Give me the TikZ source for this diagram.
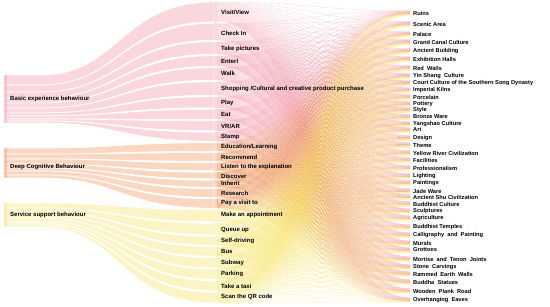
\documentclass[tikz,border=0pt]{standalone}
\usepackage{fontspec}
\setmainfont{Liberation Sans}
\definecolor{pk}{RGB}{240,130,150}
\definecolor{or}{RGB}{235,130,60}
\definecolor{ye}{RGB}{245,222,70}
\begin{document}
% label / centre / top / bottom (middle end) / left start / left width / colour
\def\midlist{{Visit/View}/12/2/21.75/75/10/pk, {Check In}/33/23.25/40.25/85/7/pk, {Take pictures}/49/41.75/54.25/92/6/pk, Enterl/61/55.75/66.25/98/5/pk, Walk/73/67.75/80.25/103/5/pk, {Shopping /Cultural and creative product purchase}/89/81.75/95.25/108/5/pk, Play/103/96.75/107.75/113/3/pk, Eat/114/109.25/119.25/116/3/pk, {VR/AR}/126/120.75/130.75/119/2/pk, Stamp/137/132.25/141.25/121/2/pk, {Education/Learning}/147/142.75/151.25/148/6/or, Recommend/157/152.75/161.25/154/5/or, {Listen to the explanation}/167/162.75/170.75/159/5/or, Discover/176/172.25/178.75/164/4/or, Inherit/183/180.25/187.25/168/3/or, Research/193/188.75/197.25/171/4/or, {Pay a visit to}/203/198.75/208.25/175/3/or, {Make an appointment}/215/209.75/221.75/203/5/ye, {Queue up}/230/223.25/234.75/208/4/ye, {Self-driving}/241/236.25/245.25/212/3/ye, Bus/251/246.75/256.25/215/3/ye, Subway/263/257.75/267.75/218/3/ye, Parking/274/269.25/279.25/221/2/ye, {Take a taxi}/286/280.75/290.75/223/2/ye, {Scan the QR code}/297/292.25/303/225/2/ye}
\def\rightlist{Ruins/13, {Scenic Area}/24, Palace/34, {Grand Canal Culture}/42, {Ancient Building}/51, {Exhibition Halls}/59, {Red~ Walls}/68, {Yin Shang~ Culture}/76, {Court Culture of the Southern Song Dynasty}/83, {Imperial Kilns}/90, Porcelain/97, Pottery/104, Style/110, {Bronze Ware}/117, {Yangshao Culture}/124, Art/130, Design/138, Theme/145, {Yellow River Civilization}/153, Facilities/160, Professionalism/168, Lighting/176, Paintings/183, {Jade Ware}/191, {Ancient Shu Civilization}/197, {Buddhist Culture}/204, Sculptures/211, Agriculture/218, {Buddhist Temples}/227, {Calligraphy~ and~ Painting}/235, Murals/243, Grottoes/250, {Mortise~ and~ Tenon~ Joints}/259, {Stone~ Carvings}/267, {Rammed~ Earth~ Walls}/274, {Buddha~ Statues}/282, {Wooden~ Plank~ Road}/291, {Overhanging~ Eaves}/300}
\begin{tikzpicture}[x=1pt,y=-1pt,
  lbl/.style={font=\fontsize{6}{6}\selectfont\bfseries, anchor=west, inner sep=0pt},
  rlbl/.style={font=\fontsize{5.7}{5.7}\selectfont\bfseries, anchor=west, inner sep=0pt},
  mesh/.style={line width=0.3pt, opacity=0.33},
  band/.style={fill opacity=0.32, draw=white, line width=0.7pt},
  bar/.style={opacity=0.3}]
\useasboundingbox (0,0) rectangle (550,307);
% left -> middle bands
\foreach \lab/\c/\tp/\bt/\ls/\lw/\col [count=\i] in \midlist {
  \filldraw[band,fill=\col] (4,\ls) -- (40,\ls) .. controls (120,\ls) and (120,\tp) .. (214,\tp)
     -- (214,\bt) .. controls (120,\bt) and (120,{\ls+\lw}) .. (40,{\ls+\lw}) -- (4,{\ls+\lw}) -- cycle;
}
% left node bars
\fill[pk,bar] (4,75) rectangle (7,123);
\fill[or,bar] (4,148) rectangle (7,178);
\fill[ye,bar] (4,203) rectangle (7,227);
% middle -> right mesh
\foreach \lab/\c/\tp/\bt/\ls/\lw/\col [count=\i] in \midlist {
  \foreach \rl/\r [count=\j] in \rightlist {
    \pgfmathsetmacro\ya{\tp+(\j-0.5)*(\bt-\tp)/38}
    \pgfmathsetmacro\yb{\r-2.5+(\i-0.5)*5/25}
    \draw[mesh,\col] (217,\ya) .. controls (313,\ya) and (313,\yb) .. (410,\yb);
  }
}
% middle bars and labels
\foreach \lab/\c/\tp/\bt/\ls/\lw/\col [count=\i] in \midlist {
  \fill[\col,bar] (214,\tp) rectangle (217,\bt);
  \node[lbl] (m\i) at (221,\c) {\lab};
}
% right labels
\foreach \rl/\r [count=\j] in \rightlist {
  \node[rlbl] (r\j) at (413,\r) {\rl};
}
% left labels
\node[lbl] (L1) at (10,99) {Basic experience behaviour};
\node[lbl] (L2) at (10,167) {Deep Cognitive Behaviour};
\node[lbl] (L3) at (10,215) {Service support behaviour};
\end{tikzpicture}
\end{document}
